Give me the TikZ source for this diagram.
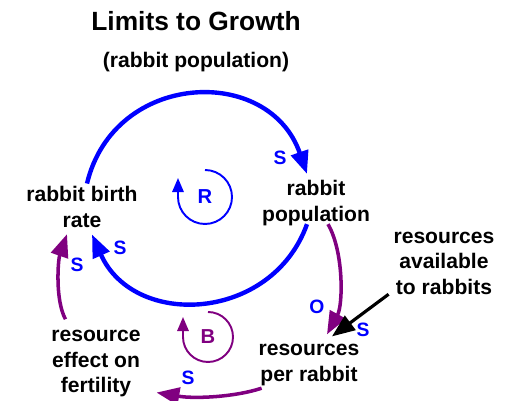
\documentclass[tikz,border=0pt]{standalone}
\usepackage{fontspec}
\setmainfont{Liberation Sans}
\usetikzlibrary{arrows.meta}
\definecolor{linkblue}{RGB}{0,0,255}
\definecolor{linkpurple}{RGB}{128,0,128}

\begin{document}
\begin{tikzpicture}[
  x=0.02cm, y=-0.02cm,
  var/.style={inner sep=0pt, outer sep=0pt, align=center, font=\fontsize{12}{14.5}\selectfont\bfseries},
  pol/.style={inner sep=0pt, outer sep=0pt, text=linkblue, font=\fontsize{11}{13}\selectfont\bfseries},
  looplbl/.style={inner sep=0pt, outer sep=0pt, font=\fontsize{11.5}{13}\selectfont\bfseries},
  arr/.style={-{Triangle[length=13pt, width=10pt]}},
  bluearr/.style={arr, draw=linkblue, line width=2.5pt},
  purparr/.style={arr, draw=linkpurple, line width=2pt},
  blackarr/.style={arr, draw=black, line width=1.8pt},
  loopline/.style={-{Triangle[length=8pt, width=6.5pt]}, line width=1.1pt}
]
\useasboundingbox (0,0) rectangle (512,401);

\node[inner sep=0pt, font=\fontsize{15}{18}\selectfont\bfseries] (title) at (196,21) {Limits to Growth};
\node[inner sep=0pt, font=\fontsize{12}{14.5}\selectfont\bfseries] (subtitle) at (196,62.5) {(rabbit population)};

\node[var] (birth) at (82,207) {rabbit birth\\rate};
\node[var] (population) at (316,203) {rabbit\\population};
\node[var] (available) at (444,263) {resources\\available\\to rabbits};
\node[var] (perrabbit) at (309,365) {resources\\per rabbit};
\node[var] (fertility) at (96,363.6) {resource\\effect on\\fertility};

\node[looplbl, text=linkblue] (rloop) at (205,197) {R};
\node[looplbl, text=linkpurple] (bloop) at (208,337) {B};

\draw[bluearr] ([shift={(5,-3)}]birth.north) .. controls (114,71) and (269,64) .. ([shift={(-9,-6.5)}]population.north);
\draw[bluearr] ([shift={(-9,-1.4)}]population.south) .. controls (272,322) and (134,329) .. ([shift={(10,7)}]birth.south);
\draw[purparr] ([shift={(12,-1.4)}]population.south) .. controls (344,252) and (343,305) .. ([shift={(18,-10)}]perrabbit.north);
\draw[blackarr] ([shift={(-5,0)}]available.south west) -- ([shift={(23,-8)}]perrabbit.north);
\draw[purparr] ([shift={(3,2.6)}]perrabbit.south west) .. controls (235,397) and (195,399) .. ([shift={(16,-4.4)}]fertility.south east);
\draw[purparr] ([shift={(14,-11)}]fertility.north west) .. controls (55,300) and (58,260) .. ([shift={(-15,6.7)}]birth.south);

\draw[loopline, linkblue] ([shift={(0,-27)}]rloop.center) arc[start angle=-90, end angle=180, radius=27] -- ++(0,-19);
\draw[loopline, linkpurple] ([shift={(0,-25)}]bloop.center) arc[start angle=-90, end angle=180, radius=25] -- ++(0,-20);

\node[pol] (s1) at (280,158) {S};
\node[pol] (s2) at (120,248) {S};
\node[pol] (s3) at (77,265) {S};
\node[pol] (o1) at (317,307) {O};
\node[pol] (s4) at (363,330) {S};
\node[pol] (s5) at (188,378) {S};
\end{tikzpicture}
\end{document}
